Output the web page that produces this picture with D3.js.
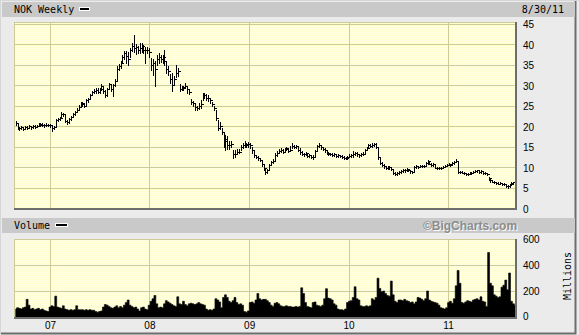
<!DOCTYPE html>
<html>
<head>
<meta charset="utf-8">
<script src="https://cdn.jsdelivr.net/npm/d3@7"></script>
<style>
html,body{margin:0;padding:0;background:#ebebeb;}
svg{display:block;}
</style>
</head>
<body>
<svg id="chart" width="579" height="335"></svg>
<script>
// ---------------- DATA ----------------
const symbol = "NOK Weekly";
const asOfDate = "8/30/11";
const firstWeek = new Date(2006, 7, 28); // week of the first bar
const yearTicks = ["07", "08", "09", "10", "11"];
const priceTicks = [0, 5, 10, 15, 20, 25, 30, 35, 40, 45];
const volumeTicks = [0, 200, 400, 600];

const closes = [
20.8,19.6,19.5,19.7,19.4,19.8,19.6,20.0,19.7,20.0,19.9,20.1,20.5,20.3,20.4,20.2,20.4,20.3,
20.3,19.6,19.8,21.4,21.8,22.0,23.0,22.9,21.3,21.0,21.7,22.3,22.9,23.5,24.0,24.8,25.6,25.5,
25.0,26.3,26.6,27.6,28.3,28.5,28.9,28.4,29.0,29.8,28.7,27.6,29.0,30.2,29.0,30.0,31.0,
34.0,34.6,35.5,37.0,37.8,37.2,36.5,38.5,39.5,39.0,39.3,38.5,
39.0,39.5,38.5,38.7,38.5,38.0,35.0,35.5,34.0,36.5,37.0,36.5,36.8,36.0,34.0,33.5,31.5,30.0,31.5,33.0,33.5,
29.0,29.3,29.5,29.8,29.0,28.3,26.0,25.6,24.6,24.5,25.0,25.5,27.5,27.6,27.0,27.0,26.3,25.5,24.5,
22.0,19.5,20.0,18.7,16.5,17.0,15.5,15.3,15.6,13.3,13.2,13.8,13.6,15.0,15.4,15.6,15.4,15.6,15.3,
14.2,13.0,12.6,12.2,11.8,10.8,9.8,
8.8,9.3,10.5,11.2,11.5,13.0,13.5,14.0,14.2,13.8,14.5,14.6,14.0,14.2,15.2,15.0,15.2,14.3,13.8,13.2,
13.1,13.4,12.8,13.0,12.6,12.5,14.0,15.2,15.4,15.0,14.5,14.2,13.5,13.3,13.2,13.0,13.1,12.8,12.9,12.7,
12.6,12.3,12.2,12.5,12.8,12.9,13.1,13.4,13.2,12.9,13.1,13.2,14.2,14.6,15.3,15.2,15.5,15.6,15.0,12.5,
11.0,10.5,10.2,9.9,10.0,10.0,
9.6,8.6,8.4,8.5,8.8,9.0,9.3,9.2,9.5,9.3,9.0,8.8,10.0,10.2,10.0,10.3,10.4,10.3,11.0,11.4,
10.9,10.6,10.8,9.9,9.7,9.8,9.7,10.1,10.4,10.6,10.8,10.6,11.0,11.3,11.6,8.8,8.9,8.7,8.6,8.4,
8.3,8.7,8.6,8.8,9.1,9.2,8.8,9.0,8.6,8.5,8.4,7.3,6.8,6.5,6.3,6.2,6.0,6.1,5.9,6.0,
5.5,5.3,5.8,6.1,6.3,6.5
];
const highs = [
21.3,20.6,19.9,20.0,19.9,20.1,20.0,20.3,20.1,20.3,20.2,20.4,20.8,20.7,20.7,20.6,20.7,20.6,
20.6,20.2,20.1,21.7,22.1,22.3,23.4,23.3,22.8,21.6,22.0,22.6,23.2,23.8,24.4,25.2,26.0,25.9,
25.7,26.6,27.0,27.9,28.7,29.0,29.3,29.2,29.4,30.3,29.8,28.8,29.3,30.6,30.4,30.3,31.6,
34.6,35.1,36.0,37.4,38.3,38.4,38.0,39.0,40.3,42.2,40.0,39.6,
40.4,40.2,39.8,39.2,39.2,39.0,36.6,36.4,36.0,37.4,37.8,37.4,37.4,38.6,35.8,34.6,32.8,32.9,32.2,35.0,34.2,
30.2,29.8,29.9,30.5,29.9,29.0,26.6,26.2,25.5,25.0,25.6,26.3,28.0,28.0,27.8,27.5,26.8,26.0,25.0,
24.0,21.5,21.0,19.6,18.3,17.9,17.5,16.5,16.5,14.2,14.2,14.5,14.5,15.4,15.8,16.3,16.0,16.2,15.9,
15.0,14.0,13.0,12.8,12.2,11.8,10.6,
9.5,9.6,10.8,11.6,12.0,13.5,13.9,14.4,14.6,14.5,14.8,15.0,14.7,15.2,15.8,15.5,15.5,15.2,14.6,13.9,
13.4,13.6,13.3,13.2,13.0,12.9,14.3,15.5,15.8,15.5,15.0,14.6,14.1,13.6,13.5,13.4,13.4,13.2,13.2,13.0,
12.9,12.7,12.5,12.8,13.1,13.2,13.9,13.8,13.6,13.3,13.4,13.6,14.5,15.0,15.6,15.6,15.8,16.0,15.8,15.0,
12.4,11.2,10.7,10.4,10.3,10.3,
10.1,9.4,8.9,8.9,9.1,9.3,9.6,9.5,9.7,9.6,9.4,9.1,10.2,10.5,10.4,10.5,10.6,10.6,11.2,11.7,
11.5,11.0,11.0,10.7,10.0,10.0,10.0,10.3,10.6,10.8,11.0,10.9,11.2,11.5,12.0,11.6,9.1,9.0,8.9,8.7,
8.6,8.9,8.9,9.0,9.3,9.4,9.2,9.2,9.0,8.8,8.6,7.6,7.1,6.8,6.6,6.4,6.3,6.3,6.2,6.2,
5.9,5.6,6.0,6.3,6.5,6.6
];
const lows = [
20.4,19.3,19.1,19.3,19.1,19.3,19.3,19.5,19.4,19.6,19.6,19.8,20.0,20.0,20.1,19.9,20.0,20.0,
19.8,18.9,19.3,19.9,21.2,21.5,22.0,22.4,21.0,20.6,20.9,21.6,22.2,22.8,23.4,24.0,24.8,25.0,
24.7,25.0,26.0,26.6,27.5,28.0,28.2,28.0,28.2,28.8,28.1,27.2,27.4,29.0,28.5,27.4,29.8,
31.0,33.6,34.3,35.4,36.5,35.3,35.0,36.8,38.3,38.0,37.5,37.9,
37.8,38.2,37.8,35.4,37.8,37.0,33.7,32.5,29.7,35.0,35.4,35.6,35.4,35.0,33.0,32.6,30.5,28.5,30.0,32.1,32.2,
28.5,28.8,28.8,29.2,28.2,27.9,25.4,25.0,24.0,24.0,24.3,24.5,26.4,27.0,26.5,26.2,25.6,25.0,24.0,
21.5,19.0,19.4,18.2,15.0,14.2,14.5,14.4,15.0,12.2,12.6,13.2,13.4,14.1,14.6,15.0,15.0,15.0,14.8,
13.5,12.5,12.2,11.8,11.4,10.4,9.4,
8.3,8.5,9.2,10.5,11.0,11.5,12.8,13.4,13.7,13.4,13.8,14.2,13.7,14.0,14.6,14.6,14.8,14.0,13.2,12.9,
12.8,12.9,12.6,12.6,12.3,12.0,12.6,14.0,14.9,14.5,14.1,13.6,13.2,12.9,12.9,12.7,12.8,12.5,12.6,12.4,
12.3,12.0,11.9,12.1,12.4,12.5,12.6,12.9,12.8,12.6,12.7,12.9,13.3,14.1,14.6,14.9,15.0,15.2,14.6,12.0,
10.7,10.2,9.9,9.6,9.6,9.6,
9.2,8.3,8.1,8.2,8.4,8.7,8.9,8.9,9.1,9.0,8.7,8.5,8.9,9.8,9.8,10.0,10.1,10.0,10.3,10.9,
10.7,10.3,10.4,9.7,9.5,9.5,9.5,9.7,10.0,10.3,10.5,10.4,10.6,10.9,11.2,8.5,8.6,8.5,8.4,8.1,
8.0,8.3,8.4,8.5,8.8,8.9,8.6,8.7,8.4,8.3,8.2,6.9,6.5,6.3,6.1,5.9,5.8,5.9,5.7,5.7,
5.2,5.0,5.2,5.7,6.0,6.1
];
// weekly volume, millions of shares
const volumes = [
60,70,65,60,70,75,135,90,60,65,55,60,65,55,60,50,45,40,
75,85,80,160,75,70,65,85,60,55,50,55,50,55,85,55,55,55,
50,55,50,55,50,50,40,35,40,45,75,95,90,80,70,65,75,
85,70,80,70,90,110,130,90,80,70,75,60,
45,70,75,60,55,90,120,140,165,100,70,75,70,100,125,115,105,95,85,80,155,
100,95,120,95,85,100,105,100,95,100,110,100,95,90,60,50,55,50,60,
140,130,115,70,150,170,150,120,110,125,150,110,95,100,90,40,35,45,110,
115,105,130,180,140,130,135,
135,125,110,90,80,105,110,100,85,80,80,85,80,80,75,75,80,75,80,225,
180,110,80,75,70,110,115,90,85,80,90,140,218,145,140,130,100,90,60,55,
55,50,60,110,120,125,150,233,140,130,85,80,80,85,80,85,140,130,150,300,
220,195,200,180,165,160,
277,170,120,110,130,130,125,135,125,120,110,115,100,115,150,145,135,125,140,200,
130,120,115,110,105,90,70,65,60,70,110,120,105,140,240,360,260,110,105,115,
125,120,115,130,135,140,130,155,120,115,80,500,260,240,170,160,150,155,230,245,
285,210,340,120,100,90
];

// ---------------- LAYOUT ----------------
const W = 579, H = 335;
const plotL = 14, plotR = 515;
const priceTop = 22, priceBot = 208;
const volTop = 239, volBot = 317;
const dates = closes.map((_, i) => d3.timeDay.offset(firstWeek, 7 * i));
const yearDates = yearTicks.map(t => new Date(2000 + (+t), 0, 1));

const svg = d3.select("#chart");
const x = d3.scaleTime()
  .domain([new Date(2007, 0, 1), new Date(2011, 0, 1)])
  .range([50, 448]);
const y = d3.scaleLinear().domain([0, 45]).range([208.2, 23.7]);
const yv = d3.scaleLinear().domain([0, 600]).range([316.7, 239.6]);

const GRID = "#cccc99";
const monoFont = "'DejaVu Sans Mono', monospace";
const sansFont = "'Liberation Sans', Arial, sans-serif";

// pattern resembling the dithered yellow plot background
const defs = svg.append("defs");
const pat = defs.append("pattern").attr("id", "dither").attr("patternUnits", "userSpaceOnUse")
  .attr("width", 2).attr("height", 2);
pat.append("rect").attr("width", 2).attr("height", 2).attr("fill", "#ffffcc");
pat.append("rect").attr("width", 1).attr("height", 1).attr("fill", "#ffffe6");
pat.append("rect").attr("x", 1).attr("y", 1).attr("width", 1).attr("height", 1).attr("fill", "#ffffe6");
defs.append("clipPath").attr("id", "clipPrice").append("rect")
  .attr("x", plotL).attr("y", priceTop).attr("width", plotR - plotL).attr("height", priceBot - priceTop);
defs.append("clipPath").attr("id", "clipVol").append("rect")
  .attr("x", plotL).attr("y", volTop).attr("width", plotR - plotL).attr("height", volBot - volTop);

// outer background & frame
svg.append("rect").attr("width", W).attr("height", H).attr("fill", "#ebebeb");
svg.append("path").attr("d", `M0.5,${H - 0.5}V0.5H${W - 0.5}`).attr("fill", "none").attr("stroke", "#d6d6d6");
svg.append("path").attr("d", `M1,${H - 1.5}H${W - 3.5}V1`).attr("fill", "none").attr("stroke", "#6e6e6e").attr("stroke-width", 2);

// header bars
function headerBar(y0, h) {
  svg.append("rect").attr("x", 2).attr("y", y0).attr("width", W - 6).attr("height", h).attr("fill", "#c9c9c9");
}
headerBar(2, 15);
headerBar(218, 15);

function legendBox(x0, y0, w, h) {
  svg.append("rect").attr("x", x0).attr("y", y0).attr("width", w).attr("height", h)
    .attr("fill", "#000").attr("stroke", "#fff").attr("stroke-width", 1).attr("shape-rendering", "crispEdges");
}
svg.append("text").attr("x", 14).attr("y", 13).attr("font-family", monoFont).attr("font-size", 10)
  .attr("fill", "#000").text(symbol);
legendBox(79.5, 7.5, 10, 3);
svg.append("text").attr("x", 564).attr("y", 13).attr("text-anchor", "end").attr("font-family", monoFont)
  .attr("font-size", 10).attr("fill", "#000").text(asOfDate);

svg.append("text").attr("x", 14).attr("y", 229).attr("font-family", monoFont).attr("font-size", 10)
  .attr("fill", "#000").text("Volume");
legendBox(55.5, 223.5, 12, 3);
svg.append("text").attr("x", 470).attr("y", 229.5).attr("text-anchor", "middle")
  .attr("font-family", sansFont).attr("font-weight", "bold").attr("font-size", 12)
  .attr("fill", "#fafafa").text("©BigCharts.com").attr("transform", "translate(1,1)");
svg.append("text").attr("x", 470).attr("y", 229.5).attr("text-anchor", "middle")
  .attr("font-family", sansFont).attr("font-weight", "bold").attr("font-size", 12)
  .attr("fill", "#8c8c8c").text("©BigCharts.com");

// plot panels
function panel(top, bot, hTicks, yScale) {
  svg.append("rect").attr("x", plotL).attr("y", top).attr("width", plotR - plotL).attr("height", bot - top)
    .attr("fill", "url(#dither)");
  const g = svg.append("g").attr("shape-rendering", "crispEdges");
  g.selectAll("line.h").data(hTicks).join("line")
    .attr("x1", plotL).attr("x2", plotR)
    .attr("y1", d => Math.round(yScale(d)) + 0.5).attr("y2", d => Math.round(yScale(d)) + 0.5)
    .attr("stroke", GRID);
  g.selectAll("line.v").data(yearDates).join("line")
    .attr("x1", d => Math.round(x(d)) + 0.5).attr("x2", d => Math.round(x(d)) + 0.5)
    .attr("y1", top).attr("y2", bot)
    .attr("stroke", GRID);
  g.append("path").attr("d", `M${plotL + 0.5},${bot}V${top + 0.5}H${plotR}`).attr("fill", "none").attr("stroke", GRID);
}
panel(priceTop, priceBot, priceTicks.filter(d => d > 0), y);
panel(volTop, volBot, volumeTicks.filter(d => d > 0 && d < 600), yv);

// price bars
const bars = svg.append("g").attr("clip-path", "url(#clipPrice)").attr("shape-rendering", "crispEdges")
  .attr("stroke", "#000").attr("stroke-width", 1);
bars.selectAll("line.hl").data(dates).join("line")
  .attr("x1", d => Math.round(x(d)) + 0.5).attr("x2", d => Math.round(x(d)) + 0.5)
  .attr("y1", (d, i) => Math.round(y(highs[i]))).attr("y2", (d, i) => Math.round(y(lows[i])) + 1);
bars.selectAll("line.cl").data(dates).join("line")
  .attr("x1", d => Math.round(x(d)) + 1).attr("x2", d => Math.round(x(d)) + 2.5)
  .attr("y1", (d, i) => Math.round(y(closes[i])) + 0.5).attr("y2", (d, i) => Math.round(y(closes[i])) + 0.5);

// volume area
const area = d3.area()
  .x((d, i) => x(dates[i]))
  .y0(yv(0) + 1).y1(d => yv(d))
  .curve(d3.curveStep);
svg.append("g").attr("clip-path", "url(#clipVol)").append("path")
  .datum(volumes).attr("d", area).attr("fill", "#000").attr("stroke", "#000").attr("stroke-width", 0.6);

// dark right/bottom borders
function darkEdge(top, bot) {
  svg.append("path").attr("d", `M${plotL},${bot + 0.5}H${plotR + 0.5}V${top}`)
    .attr("fill", "none").attr("stroke", "#6e6e6e").attr("stroke-width", 2).attr("shape-rendering", "crispEdges");
}
darkEdge(priceTop, priceBot);
darkEdge(volTop, volBot);

// right axes
const rightAxis = d3.axisRight(y).tickValues(priceTicks).tickSize(0).tickPadding(0);
svg.append("g").attr("transform", "translate(523,1)").call(rightAxis)
  .call(g => g.select(".domain").remove())
  .call(g => g.selectAll("text").attr("font-family", sansFont).attr("font-size", 10).attr("fill", "#000"));
const volAxis = d3.axisRight(yv).tickValues(volumeTicks).tickSize(0).tickPadding(0);
svg.append("g").attr("transform", "translate(523,0)").call(volAxis)
  .call(g => g.select(".domain").remove())
  .call(g => g.selectAll("text").attr("font-family", sansFont).attr("font-size", 10).attr("fill", "#000"));
svg.append("text").attr("transform", "translate(571,276) rotate(-90)").attr("text-anchor", "middle")
  .attr("font-family", monoFont).attr("font-size", 10).attr("fill", "#000").text("Millions");

// bottom year axis
const bottomAxis = d3.axisBottom(x).tickValues(yearDates).tickFormat((d, i) => yearTicks[i]).tickSize(0).tickPadding(0);
svg.append("g").attr("transform", "translate(0,321.5)").call(bottomAxis)
  .call(g => g.select(".domain").remove())
  .call(g => g.selectAll("text").attr("font-family", sansFont).attr("font-size", 10).attr("fill", "#000"));
</script>
</body>
</html>
